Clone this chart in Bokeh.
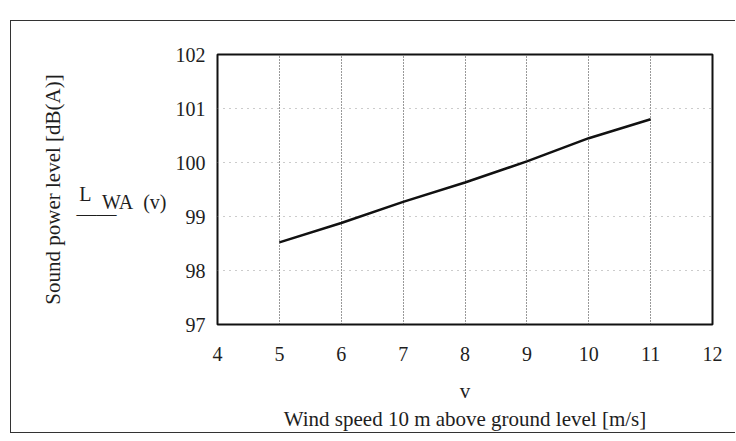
from bokeh.plotting import figure
from bokeh.models import FixedTicker, LinearAxis
from bokeh.embed import file_html
from bokeh.resources import INLINE

# data
wind_speed = [5, 6, 7, 8, 9, 10, 11]
sound_power = [98.52, 98.88, 99.27, 99.63, 100.02, 100.45, 100.80]
x_ticks = [4, 5, 6, 7, 8, 9, 10, 11, 12]
y_ticks = [97, 98, 99, 100, 101, 102]

FONT = "Liberation Serif"
INK = "#1e1e1e"
NB = "\u00a0"

p = figure(width=725, height=413, x_range=(4, 12), y_range=(97, 102),
           output_backend="svg", toolbar_location=None,
           min_border_left=206, min_border_right=24,
           min_border_top=33, min_border_bottom=106,
           background_fill_color="white", border_fill_color="white")
p.styles = {"margin-left": "10px", "margin-top": "20px",
            "border-left": "1.5px solid #333", "border-top": "1.5px solid #333",
            "border-bottom": "1.5px solid #333"}

p.outline_line_color = "#111"
p.outline_line_width = 2

xax = p.xaxis[0]
yax = p.yaxis[0]

# Mathcad-style function name L_WA(v) with its placeholder bar, drawn as a second left axis
fax = LinearAxis(ticker=FixedTicker(ticks=[99.42, 99.27, 99.04]),
                 major_label_overrides={99.42: "L" + NB * 15,
                                        99.27: "WA" + NB * 2 + "(v)",
                                        99.04: "\u2014\u2014" + NB * 10})
p.add_layout(fax, "left")

xax.ticker = FixedTicker(ticks=x_ticks)
yax.ticker = FixedTicker(ticks=y_ticks)
for ax in (xax, yax, fax):
    ax.axis_line_color = None
    ax.major_tick_line_color = None
    ax.minor_tick_line_color = None
    ax.major_label_text_font = FONT
    ax.major_label_text_font_size = "20px"
    ax.major_label_text_color = INK
    ax.axis_label_text_font = FONT
    ax.axis_label_text_font_size = "21px"
    ax.axis_label_text_font_style = "normal"
    ax.axis_label_text_color = INK

xax.major_label_standoff = 16
yax.major_label_standoff = 6
fax.major_label_standoff = 0
fax.axis_label = "Sound power level [dB(A)]"
fax.axis_label_standoff = 9
xax.axis_label = "v\nWind speed 10 m above ground level [m/s]"
xax.axis_label_standoff = 15

p.xgrid.ticker = FixedTicker(ticks=wind_speed)
p.xgrid.grid_line_color = "#333"
p.xgrid.grid_line_dash = "1 2"
p.xgrid.grid_line_width = 1
p.ygrid.ticker = FixedTicker(ticks=[98, 99, 100, 101])
p.ygrid.grid_line_color = "#999"
p.ygrid.grid_line_dash = "1 5"
p.ygrid.grid_line_width = 1

p.line(wind_speed, sound_power, line_color="#111", line_width=2.5)

open("out.html", "w").write(file_html(p, INLINE))
